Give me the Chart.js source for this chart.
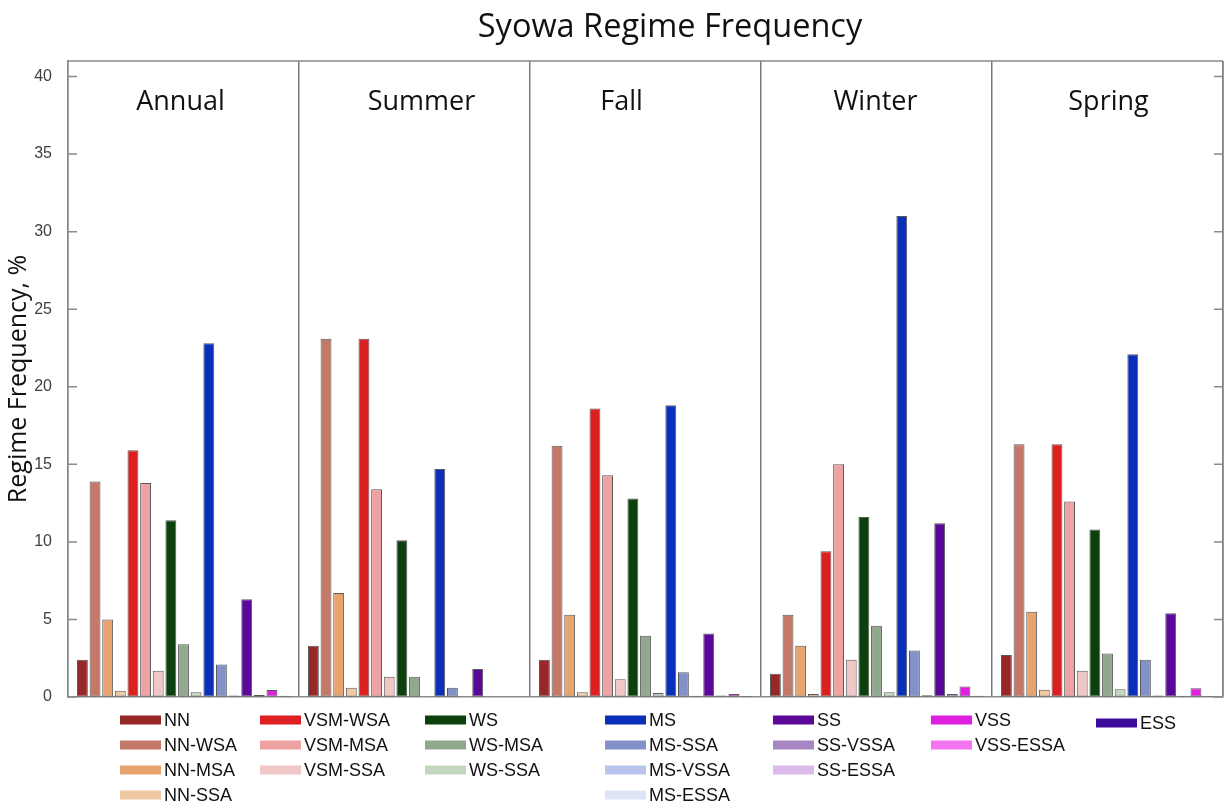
<!DOCTYPE html>
<html>
<head>
<meta charset="utf-8">
<script src="https://cdn.jsdelivr.net/npm/chart.js@4/dist/chart.umd.min.js"></script>
<style>
  html, body { margin: 0; padding: 0; background: #fff; }
  #wrap { position: relative; width: 1225px; height: 806px; }
  #legend { position: absolute; left: 0; top: 0; width: 1225px; height: 806px; pointer-events: none;
    font-family: "Liberation Sans", Arial, sans-serif; font-size: 18px; color: #111; }
  .item { position: absolute; display: flex; align-items: center; white-space: nowrap; transform: translateY(-50%); }
  .sw { width: 41px; height: 9px; margin-right: 3px; }
</style>
</head>
<body>
<div id="wrap">
  <canvas id="chart" width="1225" height="806"></canvas>
  <div id="legend"></div>
</div>
<script>
'use strict';

// ─── Data ─────────────────────────────────────────────────────
const chartTitle = 'Syowa Regime Frequency';
const panels = ['Annual', 'Summer', 'Fall', 'Winter', 'Spring'];

const regimes = ['NN', 'NN-WSA', 'NN-MSA', 'NN-SSA', 'VSM-WSA', 'VSM-MSA', 'VSM-SSA',
  'WS', 'WS-MSA', 'WS-SSA', 'MS', 'MS-SSA', 'MS-VSSA', 'MS-ESSA',
  'SS', 'SS-VSSA', 'SS-ESSA', 'VSS', 'VSS-ESSA', 'ESS'];

const colors = ['#982828', '#c47868', '#e8a46e', '#f0c8a2', '#dc2020', '#eea2a2', '#f0c6c6',
  '#0c400c', '#90a98c', '#c2d8be', '#0a2fb8', '#8292c8', '#b8c4ee', '#dce4f6',
  '#5a0898', '#a886c4', '#dcbaec', '#e020e0', '#f274ee', '#3e0c9c'];

// frequency (%) per regime, same order as `regimes`; null = not plotted
const annual = [2.4, 13.9, 5.0, 0.4, 15.9, 13.8, 1.7, 11.4, 3.4, 0.3, 22.8, 2.1, 0.1, null, 6.3, 0.15, null, 0.45, null, 0.08];
const summer = [3.3, 23.1, 6.7, 0.6, 23.1, 13.4, 1.3, 10.1, 1.3, 0, 14.7, 0.6, 0, null, 1.8, 0, null, 0, null, 0];
const fall   = [2.4, 16.2, 5.3, 0.3, 18.6, 14.3, 1.15, 12.8, 3.95, 0.25, 18.8, 1.6, 0.08, null, 4.1, 0.1, null, 0.2, null, 0.06];
const winter = [1.5, 5.3, 3.3, 0.2, 9.4, 15.0, 2.4, 11.6, 4.6, 0.3, 31.0, 3.0, 0.12, null, 11.2, 0.2, null, 0.67, null, 0.08];
const spring = [2.7, 16.3, 5.5, 0.47, 16.3, 12.6, 1.7, 10.8, 2.8, 0.5, 22.1, 2.4, 0.1, null, 5.4, 0.08, null, 0.56, null, 0.06];

const yTicks = [0, 5, 10, 15, 20, 25, 30, 35, 40];

// legend columns (indices into regimes)
const legendCols = [[0, 1, 2, 3], [4, 5, 6], [7, 8, 9], [10, 11, 12, 13], [14, 15, 16], [17, 18], [19]];

// ─── Datasets ─────────────────────────────────────────────────
const seasons = [annual, summer, fall, winter, spring];
const datasets = regimes.map((name, i) => {
  const data = seasons.map(s => s[i]);
  return {
    label: name,
    data,
    hidden: data.every(v => v === null),
    backgroundColor: colors[i],
    borderColor: 'rgba(60,60,60,0.85)',
    borderWidth: 1,
    borderSkipped: false,
    categoryPercentage: 0.93,
    barPercentage: 0.86,
  };
});

// ─── Frame: title, box, inner ticks, panel titles ─────────────
const labelShift = [-3, 7, -24, -1, 1];   // panel titles were hand-placed in the original

const framePlugin = {
  id: 'frame',
  afterDraw(chart) {
    const { ctx, chartArea: a, scales } = chart;
    ctx.save();
    ctx.strokeStyle = '#8a8a8a';
    ctx.lineWidth = 1.5;
    ctx.beginPath();
    ctx.moveTo(a.left, a.top); ctx.lineTo(a.right, a.top);
    ctx.moveTo(a.right, a.top); ctx.lineTo(a.right, a.bottom);
    yTicks.forEach(v => {
      const y = scales.y.getPixelForValue(v);
      ctx.moveTo(a.left, y);  ctx.lineTo(a.left + 9, y);
      ctx.moveTo(a.right, y); ctx.lineTo(a.right - 9, y);
    });
    ctx.stroke();

    ctx.fillStyle = '#111';
    ctx.textAlign = 'center';
    ctx.textBaseline = 'middle';
    ctx.font = '32.5px "Open Sans"';
    ctx.fillText(chartTitle, 670, 28);
    ctx.font = '27px "Open Sans"';
    panels.forEach((p, i) => ctx.fillText(p, scales.x.getPixelForValue(i) + labelShift[i], a.top + 41));
    ctx.restore();
  },
};

new Chart(document.getElementById('chart').getContext('2d'), {
  type: 'bar',
  data: { labels: panels, datasets },
  options: {
    responsive: false,
    animation: false,
    layout: { padding: { left: 0, right: 2, top: 61, bottom: 109 } },
    plugins: {
      legend: { display: false },
      tooltip: { enabled: false },
      title: { display: false },
    },
    scales: {
      x: {
        ticks: { display: false },
        grid: { offset: true, color: '#7a7a7a', lineWidth: 1.5, drawTicks: false },
        border: { display: true, color: '#8a8a8a', width: 1.5 },
      },
      y: {
        min: 0,
        max: 41,
        afterFit: s => { s.width = 68; },
        ticks: {
          stepSize: 5,
          includeBounds: false,
          color: '#404040',
          padding: 16,
          font: { family: 'Liberation Sans', size: 16 },
        },
        grid: { drawOnChartArea: false, drawTicks: false },
        border: { display: true, color: '#8a8a8a', width: 1.5 },
        title: {
          display: true,
          text: 'Regime Frequency, %',
          color: '#111',
          font: { family: 'Open Sans', size: 25 },
          padding: { top: 4, bottom: 4 },
        },
      },
    },
  },
  plugins: [framePlugin],
});

// ─── Legend (HTML) ────────────────────────────────────────────
const colLeft = [120, 260, 425, 605, 773, 931, 1096];
const rowTop  = [720, 745, 770, 795];
const legendEl = document.getElementById('legend');
legendCols.forEach((col, c) => {
  col.forEach((idx, r) => {
    const it = document.createElement('div');
    it.className = 'item';
    it.style.left = colLeft[c] + 'px';
    it.style.top = (rowTop[r] + (c === 6 ? 3 : 0)) + 'px';
    it.innerHTML = `<span class="sw" style="background:${colors[idx]}"></span><span>${regimes[idx]}</span>`;
    legendEl.appendChild(it);
  });
});
</script>
</body>
</html>
